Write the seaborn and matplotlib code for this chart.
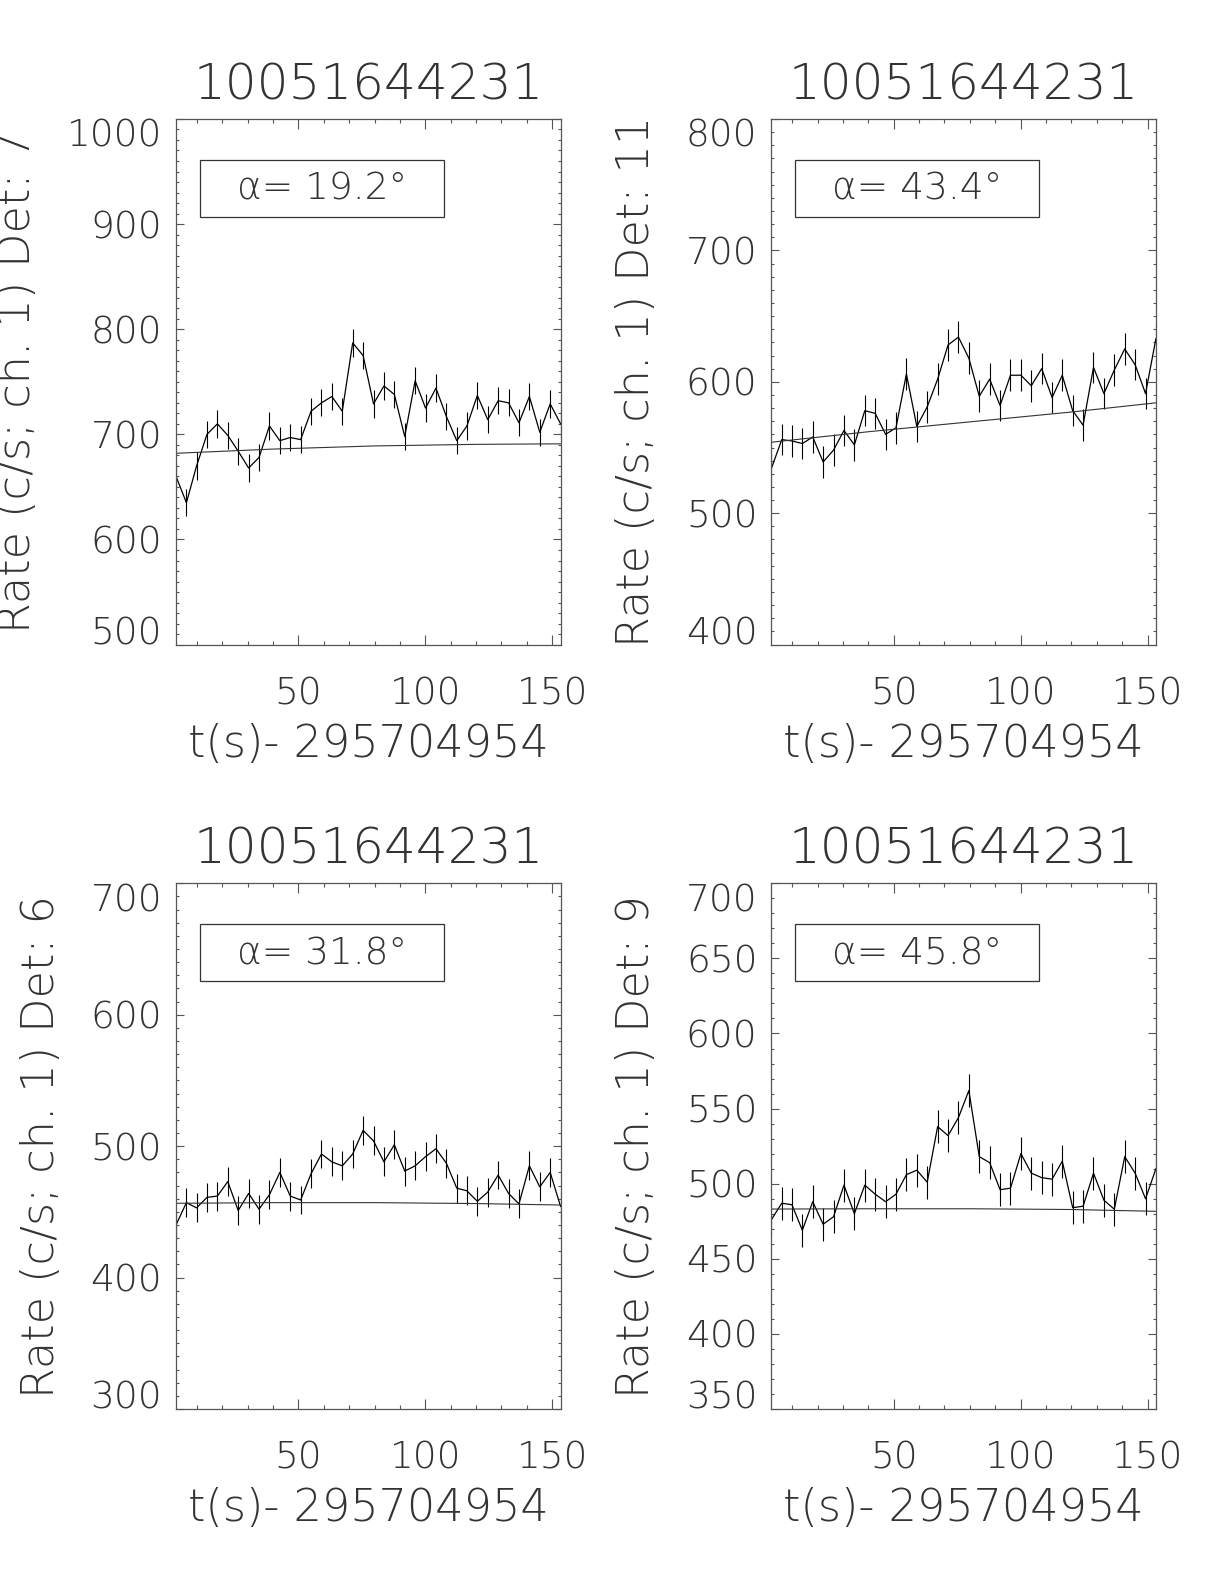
import pandas as pd
import seaborn as sns
import matplotlib.pyplot as plt
from matplotlib.ticker import MultipleLocator
from matplotlib.patches import Rectangle

# time bin centres, s after 295704954
time_s = [1.8, 5.9, 9.9, 14.0, 18.1, 22.2, 26.3, 30.4, 34.5, 38.6,
          42.7, 46.8, 50.9, 55.0, 59.1, 63.2, 67.3, 71.4, 75.5, 79.6,
          83.7, 87.8, 91.9, 96.0, 100.1, 104.2, 108.3, 112.4, 116.4, 120.5,
          124.6, 128.7, 132.8, 136.9, 141.0, 145.1, 149.2, 153.3]

# count rates per detector (c/s, channel 1)
rate_det7 = [660, 635, 670, 700, 710, 699, 684, 668, 678, 708, 694, 697, 695,
             722, 730, 736, 722, 787, 775, 729, 746, 738, 698, 751, 725, 744,
             717, 694, 708, 737, 714, 732, 730, 711, 736, 702, 729, 710]
rate_det11 = [534, 556, 555, 553, 558, 539, 548, 563, 552, 578, 576, 560, 565,
              606, 566, 581, 602, 628, 634, 618, 589, 602, 582, 605, 605, 597,
              610, 588, 605, 578, 567, 611, 591, 609, 625, 613, 591, 633]
rate_det6 = [440, 457, 453, 461, 462, 473, 451, 464, 452, 463, 480, 462, 459,
             479, 494, 488, 485, 494, 512, 504, 488, 501, 481, 485, 492, 498,
             487, 468, 466, 458, 465, 478, 464, 456, 485, 469, 480, 454]
rate_det9 = [476, 487, 486, 469, 488, 473, 478, 499, 480, 499, 493, 488, 493,
             506, 509, 501, 538, 532, 544, 562, 518, 514, 496, 497, 520, 507,
             504, 503, 515, 484, 485, 507, 489, 483, 518, 507, 490, 510]

# background fit, read at a few times
bkg_time = [1.8, 40, 80, 120, 153.3]
bkg_det7 = [682, 686, 689, 690.5, 691]
bkg_det11 = [554, 562, 569.5, 577, 584]
bkg_det6 = [456.5, 457, 457, 456.3, 455.2]
bkg_det9 = [483.1, 483.3, 483.3, 482.8, 481.6]

# error bar half widths (c/s)
errors = [13, 12, 11, 11]

detectors = [7, 11, 6, 9]
angles = [19.2, 43.4, 31.8, 45.8]
y_limits = [(500, 1000), (400, 800), (300, 700), (350, 700)]
y_major = [100, 100, 100, 50]
x_major_ticks = [50, 100, 150]

burst_id = '10051644231'
x_label = 't(s)- 295704954'

TEXT_COLOR = '#333333'
THIN = 'ultralight'


def plot_panel(ax, rate, bkg, err, det, angle, ylim, ystep):
    """
    Draw one detector light curve with its background and angle box.
    """
    df = pd.DataFrame({'t': time_s, 'rate': rate})
    ax.errorbar(df['t'], df['rate'], yerr=err, fmt='none',
                ecolor='black', elinewidth=0.8, capsize=0)
    sns.lineplot(data=df, x='t', y='rate', ax=ax, color='black',
                 linewidth=0.9, sort=False, estimator=None)
    bkg_df = pd.DataFrame({'t': bkg_time, 'bkg': bkg})
    sns.lineplot(data=bkg_df, x='t', y='bkg', ax=ax, color='#333333',
                 linewidth=0.8, estimator=None)

    ax.set_xlim(time_s[0], time_s[-1])
    ax.set_ylim(*ylim)
    ax.set_xticks(x_major_ticks)
    ax.set_yticks(list(range(ylim[0], ylim[1] + 1, ystep)))
    ax.xaxis.set_minor_locator(MultipleLocator(10))
    ax.yaxis.set_minor_locator(MultipleLocator(10))

    ax.tick_params(axis='both', which='both', direction='in',
                   top=True, right=True, colors='#555555',
                   labelcolor=TEXT_COLOR, labelsize=27, width=0.8)
    ax.tick_params(axis='x', which='major', length=7.5, pad=23)
    ax.tick_params(axis='x', which='minor', length=3)
    ax.tick_params(axis='y', which='major', length=5.5, pad=10)
    ax.tick_params(axis='y', which='minor', length=2.5)
    for spine in ax.spines.values():
        spine.set_color('#555555')
        spine.set_linewidth(0.9)

    # end labels sit inside the axis range, like the original
    yticks = ax.yaxis.get_major_ticks()
    yticks[0].label1.set_verticalalignment('baseline')
    yticks[-1].label1.set_verticalalignment('top')

    ax.set_title(burst_id, fontsize=36, pad=14, color=TEXT_COLOR,
                 fontweight=THIN)
    ax.set_xlabel(x_label, fontsize=32, color=TEXT_COLOR, labelpad=8,
                  fontweight=THIN)
    ax.set_ylabel(f'Rate (c/s; ch. 1) Det: {det}', fontsize=32,
                  color=TEXT_COLOR, labelpad=20, fontweight=THIN)

    box = Rectangle((0.062, 0.814), 0.634, 0.108, transform=ax.transAxes,
                    fill=False, edgecolor='#333333', linewidth=0.9)
    ax.add_patch(box)
    ax.text(0.379, 0.866, f'α= {angle}°', transform=ax.transAxes,
            ha='center', va='center', fontsize=27, color=TEXT_COLOR,
            fontweight=THIN)


def main():
    sns.set_style('ticks')
    plt.rcParams['font.family'] = ['DejaVu Sans']
    plt.rcParams['font.weight'] = THIN

    fig, axes = plt.subplots(2, 2, figsize=(12.24, 15.84), dpi=100)
    fig.subplots_adjust(left=0.1438, right=0.9444, bottom=0.1105,
                        top=0.9249, wspace=0.548, hspace=0.454)

    rates = [rate_det7, rate_det11, rate_det6, rate_det9]
    bkgs = [bkg_det7, bkg_det11, bkg_det6, bkg_det9]
    for i, ax in enumerate(axes.flat):
        plot_panel(ax, rates[i], bkgs[i], errors[i], detectors[i],
                   angles[i], y_limits[i], y_major[i])

    fig.savefig('out.png', dpi=100)


if __name__ == '__main__':
    main()
